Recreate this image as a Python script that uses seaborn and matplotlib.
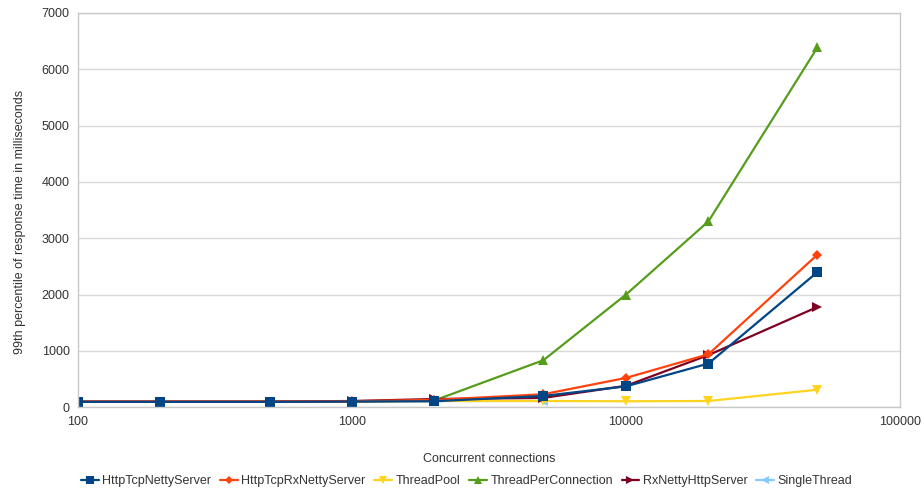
import seaborn as sns
import matplotlib.pyplot as plt
import pandas as pd

connections = [100, 200, 500, 1000, 2000, 5000, 10000, 20000, 50000]
http_tcp_netty = [95, 95, 95, 100, 105, 200, 370, 775, 2400]
http_tcp_rx_netty = [100, 100, 100, 105, 130, 230, 520, 940, 2710]
thread_pool = [95, 95, 95, 100, 110, 110, 105, 110, 310]
thread_per_conn = [95, 95, 95, 100, 120, 835, 2000, 3300, 6390]
rx_netty_http = [100, 100, 100, 110, 145, 165, 380, 925, 1780]
single_thread = [95, 95, 95, 100, 110, 110]

# draw order: SingleThread first so it sits underneath
series = [
    ('SingleThread', single_thread, '#83caff', '<'),
    ('ThreadPool', thread_pool, '#ffd320', 'v'),
    ('ThreadPerConnection', thread_per_conn, '#579d1c', '^'),
    ('RxNettyHttpServer', rx_netty_http, '#7e0021', '>'),
    ('HttpTcpRxNettyServer', http_tcp_rx_netty, '#ff420e', 'D'),
    ('HttpTcpNettyServer', http_tcp_netty, '#004586', 's'),
]
legend_order = ['HttpTcpNettyServer', 'HttpTcpRxNettyServer', 'ThreadPool',
                'ThreadPerConnection', 'RxNettyHttpServer', 'SingleThread']
sizes = {'s': 6.5, 'D': 5, 'v': 7, '^': 7, '>': 7, '<': 7}

sns.set_style('white')
plt.rcParams['font.family'] = ['Liberation Sans', 'DejaVu Sans']

fig = plt.figure(figsize=(9.24, 4.9), dpi=100)
ax = fig.add_axes([0.0844, 0.169, 0.8896, 0.8045])

for name, vals, color, marker in series:
    df = pd.DataFrame({'x': connections[:len(vals)], 'y': vals})
    sns.lineplot(data=df, x='x', y='y', ax=ax, color=color, marker=marker,
                 markersize=sizes[marker], markeredgewidth=0,
                 linewidth=1.6, label=name)

ax.set_xscale('log')
ax.set_xlim(100, 100000)
ax.set_ylim(0, 7000)
ax.set_yticks(range(0, 7001, 1000))
ax.set_xticks([100, 1000, 10000, 100000])
ax.set_xticklabels(['100', '1000', '10000', '100000'])
ax.minorticks_off()
ax.grid(axis='y', color='#d9d9d9', linewidth=1)
ax.grid(axis='x', visible=False)
for s in ax.spines.values():
    s.set_color('#c8c8c8')
    s.set_linewidth(1)
ax.tick_params(axis='both', length=0, labelsize=9, colors='#333333', pad=6)
ax.set_xlabel('Concurrent connections', fontsize=9, color='#333333', labelpad=18)
ax.set_ylabel('99th percentile of response time in milliseconds', fontsize=9,
              color='#333333')
ax.yaxis.set_label_coords(-0.063, 0.47)

h, l = ax.get_legend_handles_labels()
lookup = dict(zip(l, h))
ax.legend([lookup[n] for n in legend_order], legend_order, loc='center',
          bbox_to_anchor=(0.473, -0.188), ncol=6, frameon=False, fontsize=9,
          handlelength=1.4, handletextpad=0.3, columnspacing=0.7,
          markerscale=0.8, labelcolor='#333333')

plt.savefig('out.png')
